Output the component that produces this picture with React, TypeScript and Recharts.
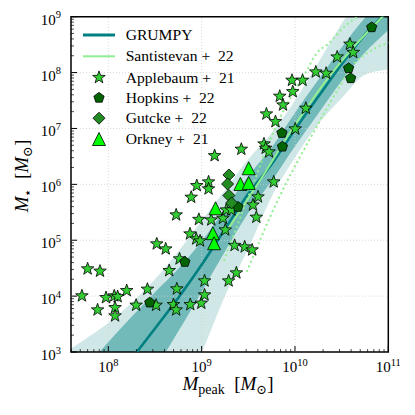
import React from "react";
import {
  ComposedChart,
  XAxis,
  YAxis,
  Area,
  Line,
  Scatter,
  ReferenceLine,
  ReferenceArea,
} from "recharts";

// ---------- data (all values are log10 of the masses in solar masses) ----------
// GRUMPY model: median and 1-sigma / 2-sigma bands on a grid of log Mpeak
const grumpyLogMpeak = [7.5, 7.75, 8.0, 8.25, 8.5, 8.75, 9.0, 9.25, 9.5, 9.75, 10.0, 10.25, 10.5, 10.75, 11.0, 11.1];
const grumpyMedian = [1.27, 1.81, 2.35, 2.88, 3.42, 3.97, 4.56, 5.2, 5.83, 6.36, 6.98, 7.57, 8.15, 8.68, 9.11, 9.28];
const grumpy1Low = [0.52, 1.06, 1.6, 2.13, 2.7, 3.37, 4.08, 4.8, 5.49, 6.06, 6.68, 7.27, 7.85, 8.36, 8.76, 8.93];
const grumpy1High = [2.17, 2.69, 3.18, 3.63, 4.07, 4.49, 4.98, 5.56, 6.15, 6.66, 7.28, 7.87, 8.45, 8.98, 9.41, 9.58];
const grumpy2Low = [-0.3, 0.3, 0.85, 1.4, 1.92, 2.3, 3.0, 4.0, 4.85, 5.78, 6.48, 7.08, 7.54, 7.96, 8.06, 8.09];
const grumpy2High = [2.95, 3.23, 3.52, 3.88, 4.3, 4.8, 5.35, 5.9, 6.45, 6.92, 7.5, 8.18, 8.88, 9.5, 10.0, 10.2];

// Santistevan + 22: median (solid) and scatter (dotted)
const santMedX = [9.265, 9.642, 10.0, 10.162, 10.323, 10.484, 10.667, 10.914, 11.076];
const santMedY = [5.154, 6.114, 7.063, 7.456, 7.832, 8.172, 8.53, 8.959, 9.227];
const santUpX = [9.239, 9.515, 9.803, 9.968, 10.118, 10.226, 10.355, 10.538, 10.667, 10.807];
const santUpY = [4.63, 5.847, 7.063, 7.599, 8.011, 8.333, 8.512, 8.834, 8.995, 9.156];
const santLoX = [9.483, 9.817, 10.183, 10.463, 10.614, 10.808, 11.05];
const santLoY = [4.432, 5.721, 6.884, 7.707, 8.118, 8.386, 8.56];

// Applebaum + 21
const applebaumMpeak = [
  7.717, 7.778, 7.911, 7.885, 7.975, 8.064, 8.1, 8.072, 8.072, 8.197, 8.298, 8.419, 8.512, 8.519, 8.615, 8.652,
  8.763, 8.734, 8.698, 8.727, 8.878, 8.996, 8.875, 8.942, 8.983, 8.727, 8.888, 8.948, 9.074, 9.074, 9.139, 8.97,
  9.103, 9.031, 9.031, 9.289, 9.372, 9.253, 9.353, 9.461, 9.541, 9.228, 9.264, 9.318, 9.586, 9.55, 9.604, 9.772,
  9.425, 9.668, 9.686, 9.722, 10.003, 9.694, 9.791, 9.837, 9.872, 9.976, 9.968, 10.081, 10.116, 10.223, 10.334,
  10.452, 10.589, 10.624,
];
const applebaumMstar = [
  4.004, 4.487, 4.446, 3.753, 3.973, 4.004, 3.99, 3.794, 3.646, 4.098, 3.837, 4.123, 3.837, 4.934, 4.844, 4.456,
  4.666, 4.129, 3.848, 3.753, 3.848, 3.873, 5.113, 5.023, 4.987, 5.453, 5.769, 5.977, 6.043, 5.918, 6.513, 5.372,
  5.363, 4.272, 4.021, 4.272, 4.415, 5.184, 4.907, 4.88, 4.826, 5.393, 5.542, 5.542, 5.411, 5.63, 5.775, 6.043,
  6.628, 6.723, 6.646, 6.58, 6.991, 7.259, 7.122, 7.576, 7.42, 7.658, 7.862, 7.862, 7.361, 8.011, 7.987,
  8.279, 8.508, 8.36,
];

// Hopkins + 22
const hopkinsMpeak = [10.822, 10.575, 10.597, 9.86, 9.866, 9.389, 8.82, 8.444];
const hopkinsMstar = [8.81, 8.077, 7.898, 6.919, 6.674, 5.596, 4.612, 3.884];

// Gutcke + 22
const gutckeMpeak = [9.292, 9.278, 9.292, 9.321];
const gutckeMstar = [6.168, 6.007, 5.801, 5.667];

// Orkney + 21
const orkneyMpeak = [9.149, 9.12, 9.133, 9.504, 9.415, 9.504];
const orkneyMstar = [5.572, 5.125, 4.946, 6.288, 6.007, 6.025];

// axis decades
const xMajor = [8, 9, 10, 11];
const yMajor = [3, 4, 5, 6, 7, 8, 9];

// ---------- tables built from the arrays ----------
const band2 = grumpyLogMpeak.map((x, i) => ({ x, range: [grumpy2Low[i], grumpy2High[i]] }));
const band1 = grumpyLogMpeak.map((x, i) => ({ x, range: [grumpy1Low[i], grumpy1High[i]] }));
const medianLine = grumpyLogMpeak.map((x, i) => ({ x, v: grumpyMedian[i] }));
const santMed = santMedX.map((x, i) => ({ x, v: santMedY[i] }));
const santUp = santUpX.map((x, i) => ({ x, v: santUpY[i] }));
const santLo = santLoX.map((x, i) => ({ x, v: santLoY[i] }));
const pts = (xs: number[], ys: number[]) => xs.map((x, i) => ({ x, y: ys[i] }));
const applebaum = pts(applebaumMpeak, applebaumMstar);
const hopkins = pts(hopkinsMpeak, hopkinsMstar);
const gutcke = pts(gutckeMpeak, gutckeMstar);
const orkney = pts(orkneyMpeak, orkneyMstar);

const X_DOMAIN: [number, number] = [7.6, 11];
const Y_DOMAIN: [number, number] = [3, 9];

const logTicks = (lo: number, hi: number) => {
  const out: number[] = [];
  for (let n = Math.floor(lo); n <= Math.ceil(hi); n++) {
    for (let k = 1; k <= 9; k++) {
      const v = n + Math.log10(k);
      if (v >= lo - 1e-9 && v <= hi + 1e-9) out.push(v);
    }
  }
  return out;
};
const xTicks = logTicks(X_DOMAIN[0], X_DOMAIN[1]);
const yTicks = logTicks(Y_DOMAIN[0], Y_DOMAIN[1]);

const FONT = "Liberation Serif, DejaVu Serif, serif";
const TEAL = "#008080";
const LIGHTGREEN = "#90EE90";

const isMajor = (v: number) => Math.abs(v - Math.round(v)) < 1e-6;

// ---------- marker shapes ----------
const starPath = (cx: number, cy: number, R = 6.6, r = 2.7) => {
  let d = "";
  for (let i = 0; i < 10; i++) {
    const a = -Math.PI / 2 + (i * Math.PI) / 5;
    const rr = i % 2 === 0 ? R : r;
    d += (i === 0 ? "M" : "L") + (cx + rr * Math.cos(a)).toFixed(2) + "," + (cy + rr * Math.sin(a)).toFixed(2);
  }
  return d + "Z";
};
const polyPath = (cx: number, cy: number, n: number, R: number) => {
  let d = "";
  for (let i = 0; i < n; i++) {
    const a = -Math.PI / 2 + (i * 2 * Math.PI) / n;
    d += (i === 0 ? "M" : "L") + (cx + R * Math.cos(a)).toFixed(2) + "," + (cy + R * Math.sin(a)).toFixed(2);
  }
  return d + "Z";
};
const diamondPath = (cx: number, cy: number, h = 6) =>
  `M${cx},${cy - h}L${cx + h},${cy}L${cx},${cy + h}L${cx - h},${cy}Z`;
const trianglePath = (cx: number, cy: number, h = 6.5) =>
  `M${cx},${cy - h}L${cx + h},${cy + h}L${cx - h},${cy + h}Z`;

const Star = (p: any) => <path d={starPath(p.cx, p.cy)} fill="#32CD32" stroke="#000" strokeWidth={0.8} />;
const Pent = (p: any) => <path d={polyPath(p.cx, p.cy, 5, 5.4)} fill="#006400" stroke="#000" strokeWidth={0.8} />;
const Diam = (p: any) => <path d={diamondPath(p.cx, p.cy)} fill="#228B22" stroke="#000" strokeWidth={0.8} />;
const Tri = (p: any) => <path d={trianglePath(p.cx, p.cy)} fill="#00FF00" stroke="#000" strokeWidth={0.8} />;

// ---------- ticks ----------
const XTick = (props: any) => {
  const { x, y, payload } = props;
  const v = payload.value;
  const major = isMajor(v);
  return (
    <g>
      <line x1={x} x2={x} y1={y} y2={y - (major ? 6 : 3)} stroke="#000" strokeWidth={major ? 1 : 0.7} />
      {major && (
        <text x={x} y={y + 20} textAnchor="middle" fontFamily={FONT} fontSize={15} fill="#000">
          10
          <tspan dy={-6.5} fontSize={10.5}>
            {Math.round(v)}
          </tspan>
        </text>
      )}
    </g>
  );
};
const YTick = (props: any) => {
  const { x, y, payload } = props;
  const v = payload.value;
  const major = isMajor(v);
  return (
    <g>
      <line x1={x} x2={x + (major ? 6 : 3)} y1={y} y2={y} stroke="#000" strokeWidth={major ? 1 : 0.7} />
      {major && (
        <text x={x - 10} y={y + 8} textAnchor="end" fontFamily={FONT} fontSize={15} fill="#000">
          10
          <tspan dy={-6.5} fontSize={10.5}>
            {Math.round(v)}
          </tspan>
        </text>
      )}
    </g>
  );
};

// overlay coordinates are page coordinates shifted by the 8px body margin
const P = (v: number) => v - 8;

const legendRows = [
  { label: "GRUMPY", y: 35, kind: "line", color: TEAL, w: 3 },
  { label: "Santistevan +  22", y: 56.3, kind: "line", color: LIGHTGREEN, w: 2 },
  { label: "Applebaum +  21", y: 77.5, kind: "star" },
  { label: "Hopkins +  22", y: 97.8, kind: "pent" },
  { label: "Gutcke +  22", y: 118.2, kind: "diam" },
  { label: "Orkney +  21", y: 139, kind: "tri" },
];

export default function App() {
  return (
    <div style={{ position: "relative", width: 400, height: 400 }}>
      <ComposedChart
        width={400}
        height={400}
        margin={{ top: 8.7, right: 19.7, left: 0, bottom: 0 }}
      >
        <XAxis
          dataKey="x"
          type="number"
          domain={X_DOMAIN}
          allowDataOverflow
          ticks={xTicks}
          interval={0}
          tick={<XTick />}
          tickLine={false}
          axisLine={false}
          tickSize={0}
          tickMargin={0}
          height={56}
        />
        <YAxis
          dataKey="y"
          type="number"
          domain={Y_DOMAIN}
          allowDataOverflow
          ticks={yTicks}
          interval={0}
          tick={<YTick />}
          tickLine={false}
          axisLine={false}
          tickSize={0}
          tickMargin={0}
          width={63}
        />
        {xMajor.slice(0, 3).map((v) => (
          <ReferenceLine key={"gx" + v} x={v} stroke="#cfcfcf" strokeWidth={0.8} strokeDasharray="1 2" />
        ))}
        {yMajor.slice(1, 6).map((v) => (
          <ReferenceLine key={"gy" + v} y={v} stroke="#cfcfcf" strokeWidth={0.8} strokeDasharray="1 2" />
        ))}
        <Area data={band2} dataKey="range" stroke="none" fill={TEAL} fillOpacity={0.19} isAnimationActive={false} type="monotone" />
        <Area data={band1} dataKey="range" stroke="none" fill={TEAL} fillOpacity={0.45} isAnimationActive={false} type="monotone" />
        <Line data={medianLine} dataKey="v" stroke={TEAL} strokeWidth={2.6} dot={false} isAnimationActive={false} type="monotone" />
        <Line data={santMed} dataKey="v" stroke={LIGHTGREEN} strokeWidth={2} dot={false} isAnimationActive={false} type="monotone" />
        <Line data={santUp} dataKey="v" stroke={LIGHTGREEN} strokeWidth={2} strokeDasharray="2 3" dot={false} isAnimationActive={false} type="monotone" />
        <Line data={santLo} dataKey="v" stroke={LIGHTGREEN} strokeWidth={2} strokeDasharray="2 3" dot={false} isAnimationActive={false} type="monotone" />
        <Scatter data={applebaum} shape={Star} isAnimationActive={false} />
        <Scatter data={hopkins} shape={Pent} isAnimationActive={false} />
        <Scatter data={gutcke} shape={Diam} isAnimationActive={false} />
        <Scatter data={orkney} shape={Tri} isAnimationActive={false} />
        <ReferenceArea x1={X_DOMAIN[0]} x2={X_DOMAIN[1]} y1={Y_DOMAIN[0]} y2={Y_DOMAIN[1]} fill="none" stroke="#000" strokeWidth={1.5} ifOverflow="visible" />
      </ComposedChart>
      <svg
        width={400}
        height={400}
        style={{ position: "absolute", left: 0, top: 0, pointerEvents: "none" }}
      >
        {legendRows.map((r) => {
          const cy = P(r.y);
          const cx = P(99);
          let mark: React.ReactNode = null;
          if (r.kind === "line")
            mark = <line x1={P(83)} x2={P(115)} y1={cy} y2={cy} stroke={r.color} strokeWidth={r.w} />;
          else if (r.kind === "star") mark = <Star cx={cx} cy={cy} />;
          else if (r.kind === "pent") mark = <Pent cx={cx} cy={cy} />;
          else if (r.kind === "diam") mark = <Diam cx={cx} cy={cy} />;
          else mark = <Tri cx={cx} cy={cy} />;
          return (
            <g key={r.label}>
              {mark}
              <text x={P(125.7)} y={cy + 5} fontFamily={FONT} fontSize={15.6} fill="#000" style={{ whiteSpace: "pre" }}>
                {r.label}
              </text>
            </g>
          );
        })}
        <text x={P(228)} y={P(390)} textAnchor="middle" fontFamily={FONT} fontSize={19} fill="#000">
          <tspan fontStyle="italic">M</tspan>
          <tspan fontSize={14} dy={4}>peak</tspan>
          <tspan dy={-4}>{"\u2002["}</tspan>
          <tspan fontStyle="italic">M</tspan>
          <tspan fontSize={13} dy={4}>{"\u2299"}</tspan>
          <tspan dy={-4}>]</tspan>
        </text>
        <text
          transform={`translate(${P(28)},${P(176)}) rotate(-90)`}
          textAnchor="middle"
          fontFamily={FONT}
          fontSize={19}
          fill="#000"
        >
          <tspan fontStyle="italic">M</tspan>
          <tspan fontSize={13} dy={4}>{"\u22C6"}</tspan>
          <tspan dy={-4}>{"\u2002["}</tspan>
          <tspan fontStyle="italic">M</tspan>
          <tspan fontSize={13} dy={4}>{"\u2299"}</tspan>
          <tspan dy={-4}>]</tspan>
        </text>
      </svg>
    </div>
  );
}
